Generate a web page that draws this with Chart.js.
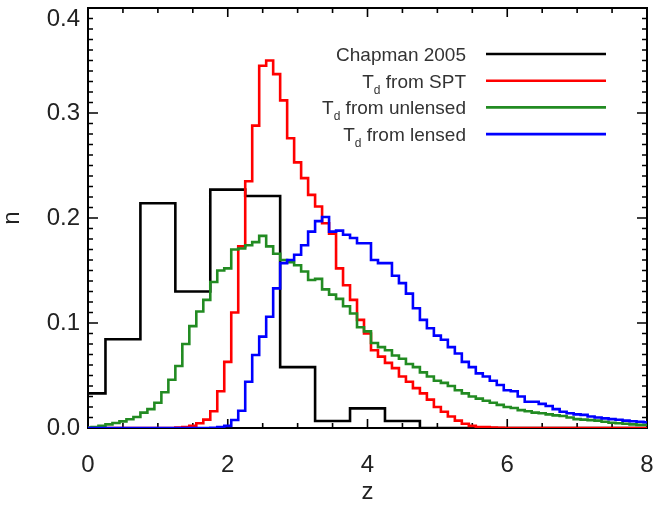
<!DOCTYPE html>
<html>
<head>
<meta charset="utf-8">
<script src="https://cdn.jsdelivr.net/npm/chart.js@4.4.1/dist/chart.umd.min.js"></script>
<style>
  html, body { margin: 0; padding: 0; background: #fff; }
</style>
</head>
<body>
<canvas id="c" width="654" height="508"></canvas>
<script>
// histogram values, one per bin centre (IDL psym=10 style steps)
const chapmanBinWidth = 0.5;   // centres 0, 0.5, ... 8
const fineBinWidth = 0.1;      // centres 0, 0.1, ... 8

const chapman2005 = [0.033, 0.0845, 0.214, 0.130, 0.227, 0.221, 0.058, 0.0067, 0.0187,
  0.0067, 0, 0, 0, 0, 0, 0, 0];

const tdFromSPT = [
  0, 0, 0, 0, 0, 0, 0, 0, 0, 0,
  0, 0, 0, 0.0005, 0.001, 0.002, 0.0045, 0.008, 0.016, 0.035,
  0.063, 0.110, 0.173, 0.235, 0.288, 0.345, 0.350, 0.337, 0.312, 0.276,
  0.253, 0.238, 0.222, 0.211, 0.195, 0.185, 0.152, 0.136, 0.122, 0.103,
  0.090, 0.074, 0.068, 0.062, 0.057, 0.049, 0.044, 0.038, 0.033, 0.027,
  0.020, 0.0155, 0.011, 0.007, 0.004, 0.002, 0.001, 0.0008, 0.0005, 0.0003,
  0, 0, 0, 0, 0, 0, 0, 0, 0, 0,
  0, 0, 0, 0, 0, 0, 0, 0, 0, 0,
  0];

const tdFromUnlensed = [
  0.0005, 0.001, 0.002, 0.0035, 0.0048, 0.0063, 0.0083, 0.0105, 0.0146, 0.018,
  0.024, 0.034, 0.046, 0.059, 0.080, 0.097, 0.111, 0.122, 0.139, 0.150,
  0.152, 0.170, 0.171, 0.174, 0.177, 0.183, 0.173, 0.166, 0.160, 0.158,
  0.155, 0.149, 0.141, 0.142, 0.132, 0.127, 0.123, 0.116, 0.109, 0.096,
  0.092, 0.081, 0.077, 0.074, 0.069, 0.066, 0.061, 0.058, 0.053, 0.049,
  0.045, 0.043, 0.040, 0.036, 0.033, 0.030, 0.028, 0.026, 0.024, 0.022,
  0.020, 0.019, 0.017, 0.016, 0.0146, 0.014, 0.013, 0.012, 0.0115, 0.010,
  0.0085, 0.008, 0.0075, 0.007, 0.006, 0.005, 0.0045, 0.004, 0.0035, 0.003,
  0.003];

const tdFromLensed = [
  0, 0, 0, 0, 0, 0, 0, 0, 0, 0,
  0, 0, 0, 0, 0, 0, 0, 0, 0.0003, 0.0008,
  0.002, 0.0076, 0.0165, 0.044, 0.0695, 0.087, 0.106, 0.133, 0.157, 0.160,
  0.165, 0.174, 0.187, 0.197, 0.201, 0.187, 0.188, 0.184, 0.181, 0.176,
  0.176, 0.160, 0.157, 0.157, 0.145, 0.138, 0.128, 0.114, 0.103, 0.095,
  0.088, 0.084, 0.077, 0.071, 0.063, 0.058, 0.052, 0.049, 0.045, 0.041,
  0.036, 0.035, 0.030, 0.025, 0.025, 0.023, 0.021, 0.018, 0.0155, 0.014,
  0.013, 0.0125, 0.011, 0.010, 0.0092, 0.0085, 0.0078, 0.007, 0.0065, 0.006,
  0.0055];

const xTickValues = [0, 2, 4, 6, 8];
const yTickValues = [0.0, 0.1, 0.2, 0.3, 0.4];
const xMinorStep = 0.5, yMinorStep = 0.01;

const FONT = '"Liberation Sans", Arial, Helvetica, sans-serif';
const TEXT = '#222';
const yTop = yTickValues[yTickValues.length - 1];

function toPoints(values, width) {
  return values.map((v, i) => ({ x: i * width, y: v }));
}

// inward ticks on all four sides + frame, IDL look
const frameAndTicks = {
  id: 'frameAndTicks',
  beforeDatasetsDraw(chart) {
    const { ctx, chartArea: a, scales: { x, y } } = chart;
    ctx.save();
    ctx.strokeStyle = '#000';
    ctx.lineWidth = 1.6;
    ctx.beginPath();
    for (let i = 0; i <= 16; i++) {
      const v = i * xMinorStep;
      const px = x.getPixelForValue(v);
      const len = xTickValues.includes(v) ? 9 : 5;
      ctx.moveTo(px, a.bottom); ctx.lineTo(px, a.bottom - len);
      ctx.moveTo(px, a.top); ctx.lineTo(px, a.top + len);
    }
    for (let i = 0; i <= 40; i++) {
      const v = i * yMinorStep;
      const py = y.getPixelForValue(v);
      const len = i % 10 === 0 ? 10 : 5;
      ctx.moveTo(a.left, py); ctx.lineTo(a.left + len, py);
      ctx.moveTo(a.right, py); ctx.lineTo(a.right - len, py);
    }
    ctx.stroke();
    ctx.lineWidth = 2;
    ctx.strokeRect(a.left, a.top, a.right - a.left, a.bottom - a.top);

    // top y label sits a little below its tick, as in the original
    ctx.font = '24px ' + FONT;
    ctx.fillStyle = TEXT;
    ctx.textAlign = 'right';
    ctx.textBaseline = 'middle';
    ctx.fillText(yTop.toFixed(1), a.left - 8, y.getPixelForValue(yTop) + 11);
    ctx.restore();
  }
};

// text-then-line legend with T_d subscripts
const legendRows = [
  { parts: [['Chapman 2005']], color: '#000000' },
  { parts: [['T'], ['d', true], [' from SPT']], color: '#ff0000' },
  { parts: [['T'], ['d', true], [' from unlensed']], color: '#228b22' },
  { parts: [['T'], ['d', true], [' from lensed']], color: '#0000ff' },
];
const textLegend = {
  id: 'textLegend',
  afterDraw(chart) {
    const { ctx } = chart;
    const textRight = 466, lineX0 = 486, lineX1 = 606, rowY0 = 54, rowStep = 26.7;
    ctx.save();
    legendRows.forEach((row, r) => {
      const yLine = rowY0 + r * rowStep;
      let w = 0;
      row.parts.forEach(([t, sub]) => {
        ctx.font = (sub ? 12 : 19) + 'px ' + FONT;
        w += ctx.measureText(t).width;
      });
      let xx = textRight - w;
      ctx.fillStyle = '#333';
      ctx.textBaseline = 'alphabetic';
      ctx.textAlign = 'left';
      row.parts.forEach(([t, sub]) => {
        ctx.font = (sub ? 12 : 19) + 'px ' + FONT;
        ctx.fillText(t, xx, yLine + 7 + (sub ? 6 : 0));
        xx += ctx.measureText(t).width;
      });
      ctx.strokeStyle = row.color;
      ctx.lineWidth = 2.6;
      ctx.beginPath();
      ctx.moveTo(lineX0, yLine); ctx.lineTo(lineX1, yLine);
      ctx.stroke();
    });
    ctx.restore();
  }
};

const common = { stepped: 'middle', pointRadius: 0, borderWidth: 2.6, fill: false,
  borderJoinStyle: 'miter', borderCapStyle: 'butt' };

new Chart(document.getElementById('c'), {
  type: 'line',
  data: {
    datasets: [
      { ...common, label: 'Chapman 2005', data: toPoints(chapman2005, chapmanBinWidth), borderColor: '#000000', order: 4 },
      { ...common, label: 'Td from SPT', data: toPoints(tdFromSPT, fineBinWidth), borderColor: '#ff0000', order: 3 },
      { ...common, label: 'Td from unlensed', data: toPoints(tdFromUnlensed, fineBinWidth), borderColor: '#228b22', order: 2 },
      { ...common, label: 'Td from lensed', data: toPoints(tdFromLensed, fineBinWidth), borderColor: '#0000ff', order: 1 },
    ],
  },
  options: {
    responsive: false, animation: false, devicePixelRatio: 1,
    layout: { padding: { top: 8, right: 7, left: 0, bottom: 0 } },
    plugins: { legend: { display: false }, tooltip: { enabled: false } },
    scales: {
      x: {
        type: 'linear', min: 0, max: 8,
        afterFit: (s) => { s.height = 80; },
        afterBuildTicks: (s) => { s.ticks = xTickValues.map((v) => ({ value: v })); },
        grid: { display: false, drawTicks: true, tickLength: 25 }, border: { display: false },
        ticks: { padding: 0, color: TEXT, font: { family: FONT, size: 24, lineHeight: 1 },
          maxRotation: 0, autoSkip: false, callback: (v) => String(v) },
        title: { display: true, text: 'z', color: TEXT, font: { family: FONT, size: 24, lineHeight: 1 },
          padding: { top: 0, bottom: 4 } },
      },
      y: {
        type: 'linear', min: 0, max: yTop,
        afterFit: (s) => { s.width = 88; },
        afterBuildTicks: (s) => { s.ticks = yTickValues.map((v) => ({ value: v })); },
        grid: { display: false, drawTicks: true, tickLength: 8 }, border: { display: false },
        ticks: { padding: 0, color: TEXT, font: { family: FONT, size: 24, lineHeight: 0.6 },
          autoSkip: false, callback: (v) => (v === yTop ? '' : v.toFixed(1)) },
        title: { display: true, text: 'n', color: TEXT, font: { family: FONT, size: 24, lineHeight: 1 },
          padding: { top: 0, bottom: 0 } },
      },
    },
  },
  plugins: [frameAndTicks, textLegend],
});
</script>
</body>
</html>
